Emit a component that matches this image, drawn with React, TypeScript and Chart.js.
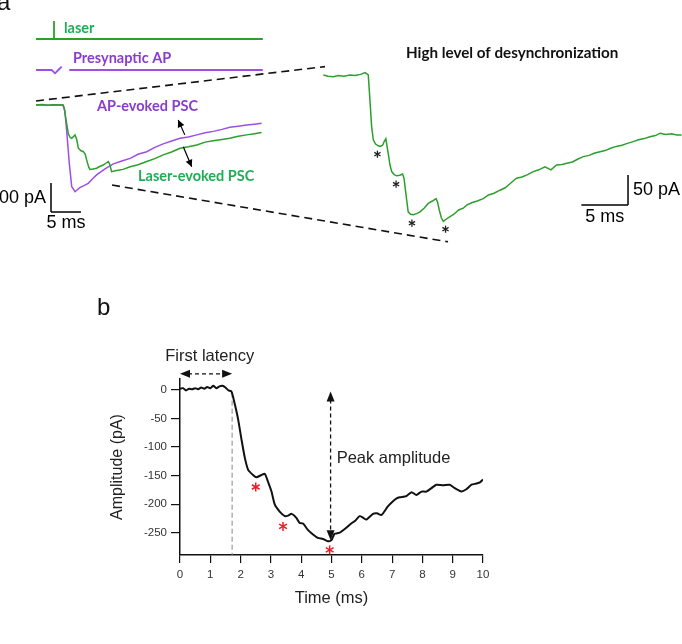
import React, { useEffect, useRef } from 'react';
import { Chart, registerables } from 'chart.js';
Chart.register(...registerables);

// ================= Panel a data =================
// Left overlay: laser-evoked PSC (green) — [time ms, current pA]
const laserPscLeft: [number, number][] = [
  [0, 0], [1, 2], [2, -1], [3, 1], [4, 0], [4.5, 0], [4.7, -10], [5.0, -50], [5.4, -100], [5.7, -112],
  [5.95, -115], [6.2, -110], [6.5, -103], [6.8, -120], [7.05, -149], [7.5, -158], [7.9, -161], [8.2, -170],
  [8.45, -190], [8.8, -215], [9.0, -222], [9.5, -221], [10.1, -218], [10.6, -212], [11.2, -207], [11.7, -200],
  [12.05, -195], [12.3, -205], [12.6, -230], [13.45, -226], [14.5, -222], [15.7, -213], [17, -206],
  [18.45, -195], [19.8, -185], [21.2, -172], [22.6, -162], [24, -149], [25.4, -144], [26.8, -138],
  [28.2, -128], [29.55, -123], [31, -119], [32.3, -115], [33.7, -108], [35.1, -103], [36.4, -99], [37.6, -95],
];
// Left overlay: AP-evoked PSC (purple)
const apPscLeft: [number, number][] = [
  [0, 0], [1, 1], [2, -1], [3, 1], [4, 0], [4.5, 0], [4.8, -20], [5.1, -86], [5.55, -201], [5.95, -281],
  [6.5, -299], [7.3, -285], [8.0, -278], [8.7, -270], [9.4, -255], [10.1, -241], [11.5, -220], [12.9, -203],
  [14.3, -193], [15.7, -184], [17, -170], [18.45, -161], [19.8, -146], [21.2, -134], [22.6, -124], [24, -115],
  [25.4, -110], [26.8, -103], [28.2, -96], [29.55, -91], [31, -84], [32.3, -77], [33.7, -73], [35.1, -69],
  [36.4, -66], [37.6, -63],
];
// Stimulus traces (time ms, arbitrary units); null = gap
const laserStim: [number, number | null][] = [[0, 0], [3, 0], [3, 1], [3, 0], [37.8, 0]];
const presynapticAp: [number, number | null][] = [
  [0, 0], [2.33, 0], [2.62, 0], [3.17, -1], [3.72, 0], [4.28, 1], [4.9, null], [5.55, 0], [37.8, 0],
];
// Right trace: high level of desynchronization (time ms, pA)
const desyncTrace: [number, number][] = [
  [0, 0], [0.5, -2], [1.07, -3], [1.6, -1], [2.2, -2], [2.86, 0], [3.4, -1], [4.0, 1], [4.47, 4], [4.82, 0],
  [5.0, -42], [5.18, -86], [5.36, -108], [5.6, -115], [5.89, -118], [6.1, -119], [6.36, -117], [6.55, -110],
  [6.7, -106], [6.96, -131], [7.15, -150], [7.33, -161], [7.6, -166], [7.86, -168], [8.2, -167], [8.5, -165],
  [8.65, -172], [8.76, -186], [8.95, -210], [9.1, -228], [9.35, -232], [9.65, -233], [10.0, -231], [10.36, -228],
  [10.8, -222], [11.25, -214], [11.7, -210], [12.08, -206], [12.25, -212], [12.43, -225], [12.65, -238],
  [12.86, -244], [13.2, -240], [13.58, -236], [14.0, -232], [14.5, -225], [15.0, -222], [15.37, -217],
  [15.9, -213], [16.5, -210], [17.15, -206], [17.7, -200], [18.3, -197], [18.94, -192], [19.5, -188],
  [20.1, -180], [20.7, -172], [21.3, -170], [21.9, -166], [22.5, -161], [23.1, -158], [23.76, -153],
  [24.4, -158], [25.0, -150], [25.6, -149], [26.1, -147], [26.7, -145], [27.3, -140], [27.86, -136],
  [28.5, -134], [29.1, -130], [29.66, -128], [30.2, -126], [30.8, -122], [31.4, -119], [32.0, -117],
  [32.6, -114], [33.2, -111], [33.8, -108], [34.4, -106], [35.0, -103], [35.6, -101], [36.1, -97],
  [36.7, -99], [37.3, -98], [37.9, -100], [38.4, -100],
];
const desyncEvents: [number, number][] = [[5.8, -132], [7.8, -182], [9.5, -247], [13.1, -257]];

// ================= Panel b data =================
const timeTicks = [0, 1, 2, 3, 4, 5, 6, 7, 8, 9, 10];
const ampTicks = [0, -50, -100, -150, -200, -250];
const pscTrace: [number, number][] = [
  [0, 2], [0.1, 3], [0.2, -1], [0.3, 2], [0.4, 1], [0.5, 3], [0.6, 1], [0.7, 4], [0.8, 2], [0.9, 5],
  [1.0, 3], [1.1, 7], [1.2, 3], [1.3, 6], [1.4, 7], [1.5, 4], [1.6, -1], [1.7, -3], [1.8, -23], [1.92, -52],
  [2.03, -87], [2.14, -119], [2.25, -140], [2.41, -149], [2.52, -153], [2.69, -149], [2.8, -147], [2.9, -160],
  [3.02, -178], [3.13, -201], [3.29, -213], [3.46, -221], [3.57, -220], [3.68, -217], [3.84, -224],
  [3.95, -233], [4.06, -234], [4.22, -245], [4.39, -253], [4.55, -259], [4.72, -261], [4.88, -265],
  [5.0, -263], [5.1, -252], [5.27, -250], [5.45, -243], [5.6, -236], [5.8, -228], [5.93, -221], [6.05, -224],
  [6.15, -227], [6.37, -217], [6.5, -216], [6.65, -219], [6.86, -204], [7.03, -195], [7.15, -190],
  [7.25, -188], [7.47, -186], [7.64, -179], [7.8, -184], [7.97, -178], [8.13, -178], [8.3, -172],
  [8.46, -166], [8.68, -167], [8.9, -166], [9.07, -172], [9.29, -178], [9.45, -174], [9.62, -166],
  [9.78, -164], [9.9, -162], [10, -157],
];
const pscEvents: [number, number][] = [[2.5, -170], [3.4, -239], [4.94, -280]];
const firstLatencyMs = 1.72;
const peakTimeMs = 4.97;
const peakAmplitudePa = -263;

// ================= styles / layout =================
const TRACE_GREEN = '#2c9f2c';
const TRACE_PURPLE = '#9b4fe4';
const LABEL_GREEN = '#1fae55';
const LABEL_PURPLE = '#8a3ccc';
const SANS = '"Liberation Sans", Arial, sans-serif';
const LABEL_FONT = 'bold 14.5px Lato, "Open Sans", sans-serif';

const A_W = 682, A_H = 250;
// pixel mapping of each hidden axis in panel a
const axisRange = (originPx: number, pxPerUnit: number, size: number, invert: boolean) =>
  invert
    ? { min: -(size - originPx) / pxPerUnit, max: originPx / pxPerUnit }
    : { min: -originPx / pxPerUnit, max: (size - originPx) / pxPerUnit };

const pts = (arr: [number, number | null][]) => arr.map(([x, y]) => ({ x, y }));

function arrowHead(ctx: CanvasRenderingContext2D, x1: number, y1: number, x2: number, y2: number, len = 9, half = 4) {
  const a = Math.atan2(y2 - y1, x2 - x1);
  ctx.save();
  ctx.setLineDash([]);
  ctx.beginPath();
  ctx.moveTo(x2, y2);
  ctx.lineTo(x2 - len * Math.cos(a) + half * Math.sin(a), y2 - len * Math.sin(a) - half * Math.cos(a));
  ctx.lineTo(x2 - len * Math.cos(a) - half * Math.sin(a), y2 - len * Math.sin(a) + half * Math.cos(a));
  ctx.closePath();
  ctx.fill();
  ctx.restore();
}
function asterisk(ctx: CanvasRenderingContext2D, x: number, y: number, r: number, color: string, lw: number) {
  ctx.save();
  ctx.strokeStyle = color;
  ctx.lineWidth = lw;
  ctx.setLineDash([]);
  for (const deg of [90, 30, 150]) {
    const a = (deg * Math.PI) / 180;
    ctx.beginPath();
    ctx.moveTo(x - r * Math.cos(a), y - r * Math.sin(a));
    ctx.lineTo(x + r * Math.cos(a), y + r * Math.sin(a));
    ctx.stroke();
  }
  ctx.restore();
}
function seg(ctx: CanvasRenderingContext2D, x1: number, y1: number, x2: number, y2: number) {
  ctx.beginPath();
  ctx.moveTo(x1, y1);
  ctx.lineTo(x2, y2);
  ctx.stroke();
}

// ================= Panel a annotations =================
const panelAPlugin = {
  id: 'panelA',
  afterDatasetsDraw(chart: any) {
    const ctx: CanvasRenderingContext2D = chart.ctx;
    const s = chart.scales;
    const X = (id: string, v: number) => s[id].getPixelForValue(v);
    ctx.save();
    // zoom connectors (left overlay -> right trace)
    ctx.strokeStyle = '#111';
    ctx.lineWidth = 1.6;
    ctx.setLineDash([8, 5]);
    seg(ctx, X('xa', 0), X('ya', 14), X('xb', 0.18), X('yb', 14));
    seg(ctx, X('xa', 12.67), X('ya', -276), X('xb', 13.37), X('yb', -278));
    ctx.setLineDash([]);
    // scale bars
    ctx.lineWidth = 1.5;
    ctx.strokeStyle = '#000';
    const lx = X('xa', 2.5), ly = X('ya', -369);
    seg(ctx, lx, X('ya', -369 + 100), lx, ly);
    seg(ctx, lx, ly, X('xa', 2.5 + 5), ly);
    const rx = X('xb', 32.66), ry = X('yb', -216.7);
    seg(ctx, rx, X('yb', -216.7 + 50), rx, ry);
    seg(ctx, rx, ry, X('xb', 32.66 - 5), ry);
    ctx.fillStyle = '#000';
    ctx.font = `18px ${SANS}`;
    ctx.textBaseline = 'middle';
    ctx.textAlign = 'right';
    ctx.fillText('100 pA', lx - 5, (ly + X('ya', -269)) / 2 + 1);
    ctx.textAlign = 'center';
    ctx.fillText('5 ms', (lx + X('xa', 7.5)) / 2, ly + 11);
    ctx.textAlign = 'left';
    ctx.fillText('50 pA', rx + 5, (ry + X('yb', -166.7)) / 2);
    ctx.textAlign = 'center';
    ctx.fillText('5 ms', (rx + X('xb', 27.66)) / 2, ry + 12);
    // pointer arrows
    ctx.lineWidth = 1.2;
    const a1 = [X('xa', 24.8), X('ya', -103), X('xa', 23.7), X('ya', -52)];
    seg(ctx, a1[0], a1[1], a1[2], a1[3]);
    arrowHead(ctx, a1[0], a1[1], a1[2], a1[3], 7, 3.5);
    const a2 = [X('xa', 24.55), X('ya', -144), X('xa', 25.95), X('ya', -213)];
    seg(ctx, a2[0], a2[1], a2[2], a2[3]);
    arrowHead(ctx, a2[0], a2[1], a2[2], a2[3], 7, 3.5);
    // event asterisks
    for (const [t, v] of desyncEvents) asterisk(ctx, X('xb', t), X('yb', v), 3.6, '#222', 1.3);
    // labels
    ctx.textAlign = 'left';
    ctx.textBaseline = 'middle';
    ctx.font = LABEL_FONT;
    ctx.fillStyle = LABEL_GREEN;
    ctx.fillText('laser', 64, 28);
    ctx.fillText('Laser-evoked PSC', 138, 176);
    ctx.fillStyle = LABEL_PURPLE;
    ctx.fillText('Presynaptic AP', 73, 58);
    ctx.fillText('AP-evoked PSC', 97, 106);
    ctx.fillStyle = '#111';
    ctx.font = 'bold 15.2px Lato, "Open Sans", sans-serif';
    ctx.fillText('High level of desynchronization', 406, 53);
    ctx.font = `24px ${SANS}`;
    ctx.textBaseline = 'alphabetic';
    ctx.fillText('a', -3, 10);
    ctx.restore();
  },
};

const lineDs = (data: any[], color: string, xAxisID: string, yAxisID: string, width = 1.5) => ({
  data,
  xAxisID,
  yAxisID,
  borderColor: color,
  borderWidth: width,
  pointRadius: 0,
  tension: 0,
  spanGaps: false,
  fill: false,
});

const hidden = (r: { min: number; max: number }) => ({ type: 'linear', display: false, min: r.min, max: r.max });

const configA: any = {
  type: 'line',
  data: {
    datasets: [
      lineDs(pts(laserStim), TRACE_GREEN, 'xa', 'yL', 1.8),
      lineDs(pts(presynapticAp), TRACE_PURPLE, 'xa', 'yP', 1.8),
      lineDs(pts(laserPscLeft), TRACE_GREEN, 'xa', 'ya'),
      lineDs(pts(apPscLeft), TRACE_PURPLE, 'xa', 'ya'),
      lineDs(pts(desyncTrace), TRACE_GREEN, 'xb', 'yb'),
    ],
  },
  options: {
    responsive: false,
    animation: false,
    events: [],
    layout: { padding: 0 },
    plugins: { legend: { display: false }, tooltip: { enabled: false } },
    scales: {
      xa: { ...hidden(axisRange(36, 6, A_W, false)), axis: 'x' },
      ya: { ...hidden(axisRange(105, 0.29, A_H, true)), axis: 'y' },
      yL: { ...hidden(axisRange(39, 18, A_H, true)), axis: 'y' },
      yP: { ...hidden(axisRange(70, 3.3, A_H, true)), axis: 'y' },
      xb: { ...hidden(axisRange(323.3, 9.33, A_W, false)), axis: 'x' },
      yb: { ...hidden(axisRange(75, 0.6, A_H, true)), axis: 'y' },
    },
  },
  plugins: [panelAPlugin],
};

// ================= Panel b annotations =================
const panelBPlugin = {
  id: 'panelB',
  afterDatasetsDraw(chart: any) {
    const ctx: CanvasRenderingContext2D = chart.ctx;
    const { x, y } = chart.scales;
    ctx.save();
    ctx.strokeStyle = '#111';
    ctx.fillStyle = '#111';
    ctx.lineWidth = 1.3;
    // first latency double arrow
    const ly = y.getPixelForValue(28);
    const lx0 = x.getPixelForValue(0), lx1 = x.getPixelForValue(firstLatencyMs);
    ctx.setLineDash([4, 3]);
    seg(ctx, lx0 + 8, ly, lx1 - 8, ly);
    arrowHead(ctx, lx1, ly, lx0, ly, 10, 4);
    arrowHead(ctx, lx0, ly, lx1, ly, 10, 4);
    // peak amplitude double arrow
    const px = x.getPixelForValue(peakTimeMs);
    const py0 = y.getPixelForValue(-3), py1 = y.getPixelForValue(peakAmplitudePa);
    ctx.setLineDash([4, 3]);
    seg(ctx, px, py0 + 8, px, py1 - 8);
    arrowHead(ctx, px, py1, px, py0, 10, 4);
    arrowHead(ctx, px, py0, px, py1, 10, 4);
    ctx.setLineDash([]);
    // texts
    ctx.font = `16.5px ${SANS}`;
    ctx.fillStyle = '#222';
    ctx.textBaseline = 'middle';
    ctx.textAlign = 'center';
    ctx.fillText('First latency', x.getPixelForValue(0.98), y.getPixelForValue(59));
    ctx.textAlign = 'left';
    ctx.fillText('Peak amplitude', x.getPixelForValue(5.17), y.getPixelForValue(-120));
    // event asterisks
    for (const [t, v] of pscEvents) asterisk(ctx, x.getPixelForValue(t), y.getPixelForValue(v), 4.5, '#ee1c25', 1.5);
    // panel label
    ctx.fillStyle = '#111';
    ctx.font = `24px ${SANS}`;
    ctx.textAlign = 'left';
    ctx.textBaseline = 'alphabetic';
    ctx.fillText('b', 97, 45);
    ctx.restore();
  },
};

const configB: any = {
  type: 'line',
  data: {
    datasets: [
      { data: pts(pscTrace), borderColor: '#111', borderWidth: 2, pointRadius: 0, tension: 0.2, fill: false },
      {
        data: [{ x: firstLatencyMs, y: -5 }, { x: firstLatencyMs, y: -289 }],
        borderColor: '#888', borderWidth: 1, borderDash: [5, 3], pointRadius: 0, fill: false,
      },
    ],
  },
  options: {
    responsive: false,
    animation: false,
    events: [],
    layout: { padding: { left: 104, right: 199, top: 109, bottom: 32 } },
    plugins: { legend: { display: false }, tooltip: { enabled: false } },
    scales: {
      x: {
        type: 'linear',
        min: 0,
        max: 10,
        afterBuildTicks: (s: any) => { s.ticks = timeTicks.map((v) => ({ value: v })); },
        afterFit: (s: any) => { s.height = 57; },
        grid: { display: true, drawOnChartArea: false, drawTicks: true, tickLength: 8, color: '#111', lineWidth: 1.2 },
        border: { display: true, color: '#111', width: 1.5 },
        ticks: { color: '#333', font: { family: SANS, size: 11.5 }, padding: 5, maxRotation: 0 },
        title: { display: true, text: 'Time (ms)', color: '#222', font: { family: SANS, size: 16.5 }, padding: { top: 4, bottom: 4 } },
      },
      y: {
        type: 'linear',
        min: -289,
        max: 19,
        afterBuildTicks: (s: any) => { s.ticks = ampTicks.map((v) => ({ value: v })); },
        afterFit: (s: any) => { s.width = 76; },
        grid: { display: true, drawOnChartArea: false, drawTicks: true, tickLength: 9, color: '#111', lineWidth: 1.2 },
        border: { display: true, color: '#111', width: 1.5 },
        ticks: { color: '#333', font: { family: SANS, size: 11.5 }, padding: 4 },
        title: { display: true, text: 'Amplitude (pA)', color: '#222', font: { family: SANS, size: 16 }, padding: { top: 4, bottom: 4 } },
      },
    },
  },
  plugins: [panelBPlugin],
};

export default function App() {
  const refA = useRef<HTMLCanvasElement>(null);
  const refB = useRef<HTMLCanvasElement>(null);
  useEffect(() => {
    const a = new Chart(refA.current as HTMLCanvasElement, configA);
    const b = new Chart(refB.current as HTMLCanvasElement, configB);
    return () => {
      a.destroy();
      b.destroy();
    };
  }, []);
  return (
    <div style={{ position: 'absolute', left: 0, top: 0, width: 682, height: 644, background: '#fff', overflow: 'hidden' }}>
      <canvas ref={refA} width={A_W} height={A_H} style={{ position: 'absolute', left: 0, top: 0 }} />
      <canvas ref={refB} width={682} height={374} style={{ position: 'absolute', left: 0, top: 270 }} />
    </div>
  );
}
